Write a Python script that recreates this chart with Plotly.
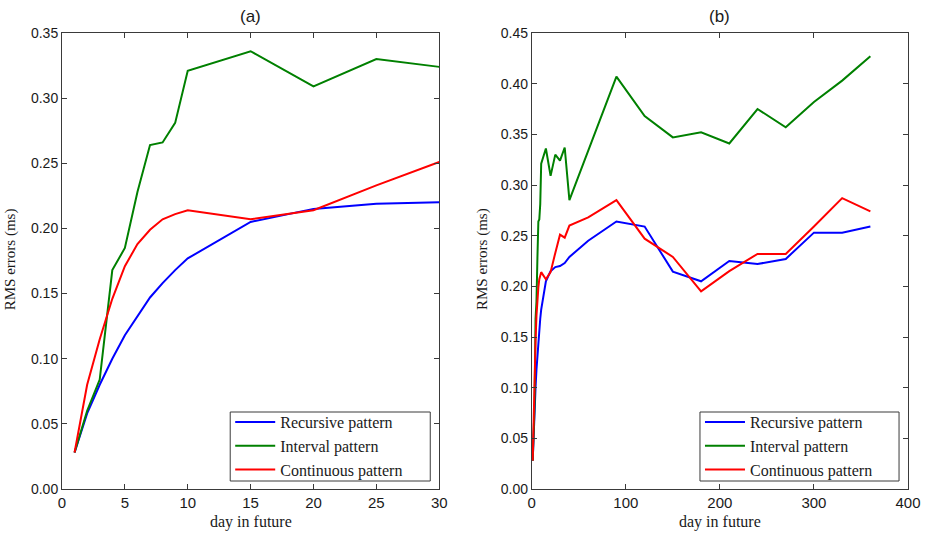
import plotly.graph_objects as go

# ---- Data: panel (a) ----
days_a = [1, 2, 3, 4, 5, 6, 7, 8, 9, 10, 15, 20, 25, 30]
recursive_a = [0.028, 0.058, 0.080, 0.100, 0.118, 0.133, 0.147, 0.158, 0.168, 0.177, 0.205, 0.215, 0.219, 0.220]
interval_a = [0.028, 0.060, 0.084, 0.168, 0.185, 0.228, 0.264, 0.266, 0.281, 0.321, 0.336, 0.309, 0.330, 0.324]
continuous_a = [0.028, 0.080, 0.115, 0.146, 0.171, 0.188, 0.199, 0.207, 0.211, 0.214, 0.207, 0.214, 0.233, 0.251]

# ---- Data: panel (b) ----
days_b = [1, 2, 3, 4, 5, 6, 7, 8, 9, 10, 15, 20, 25, 30, 35, 40, 60, 90, 120, 150, 180, 210, 240, 270, 300, 330, 360]
recursive_b = [0.028, 0.058, 0.080, 0.100, 0.118, 0.133, 0.147, 0.158, 0.168, 0.177, 0.205, 0.215, 0.219, 0.220,
               0.223, 0.229, 0.245, 0.264, 0.259, 0.2145, 0.205, 0.225, 0.222, 0.227, 0.253, 0.253, 0.259]
interval_b = [0.028, 0.060, 0.084, 0.168, 0.185, 0.228, 0.264, 0.266, 0.281, 0.321, 0.336, 0.309, 0.330, 0.324,
              0.337, 0.285, None, 0.407, 0.368, 0.347, 0.352, 0.341, 0.375, 0.357, 0.382, 0.403, 0.427]
continuous_b = [0.028, 0.080, 0.115, 0.146, 0.171, 0.188, 0.199, 0.207, 0.211, 0.214, 0.207, 0.214, 0.233, 0.251,
                0.248, 0.260, 0.268, 0.285, 0.247, 0.229, 0.195, 0.215, 0.232, 0.232, 0.259, 0.287, 0.274]

series_names = ["Recursive pattern", "Interval pattern", "Continuous pattern"]
colors = ["#0000FF", "#008000", "#FF0000"]

panel_titles = ["(a)", "(b)"]
x_title = "day in future"
y_title = "RMS errors (ms)"

W, H = 933, 534
L, R, T, B = 62, 21, 33, 45
pw = W - L - R
ph = H - T - B

def px2dom(px):
    return (px - L) / pw

def py2dom(py):
    return (H - B - py) / ph

sans = "Liberation Sans, Arial, sans-serif"
serif = "Liberation Serif, Times New Roman, serif"
txt = "#1a1a1a"
frame = "#3a3a3a"

fig = go.Figure()

for vals, name, col in zip([recursive_a, interval_a, continuous_a], series_names, colors):
    fig.add_trace(go.Scatter(x=days_a, y=vals, mode="lines", name=name,
                             line=dict(color=col, width=2), xaxis="x", yaxis="y",
                             legend="legend"))
for vals, name, col in zip([recursive_b, interval_b, continuous_b], series_names, colors):
    fig.add_trace(go.Scatter(x=days_b, y=vals, mode="lines", name=name, connectgaps=True,
                             line=dict(color=col, width=2), xaxis="x2", yaxis="y2",
                             legend="legend2"))

def axis_style(fontsize):
    return dict(showline=True, linecolor=frame, linewidth=1, mirror="ticks",
                ticks="inside", ticklen=5, tickcolor=frame, showgrid=False,
                zeroline=False, tickfont=dict(family=sans, size=fontsize, color=txt))

legend_style = dict(xanchor="left", yanchor="top", borderwidth=0,
                    bgcolor="rgba(0,0,0,0)", font=dict(family=serif, size=16, color=txt),
                    tracegroupgap=0, itemwidth=40)

fig.update_layout(
    width=W, height=H,
    paper_bgcolor="white", plot_bgcolor="white",
    margin=dict(l=L, r=R, t=T, b=B),
    xaxis=dict(domain=[0, px2dom(441)], range=[0, 30], tickvals=[0, 5, 10, 15, 20, 25, 30],
               anchor="y", **axis_style(15)),
    yaxis=dict(domain=[0, 1], range=[0, 0.35], tickvals=[0, 0.05, 0.1, 0.15, 0.2, 0.25, 0.3, 0.35],
               tickformat=".2f", anchor="x", **axis_style(14)),
    xaxis2=dict(domain=[px2dom(534), 1], range=[0, 400], tickvals=[0, 100, 200, 300, 400],
                anchor="y2", **axis_style(15)),
    yaxis2=dict(domain=[0, 1], range=[0, 0.45],
                tickvals=[0, 0.05, 0.1, 0.15, 0.2, 0.25, 0.3, 0.35, 0.4, 0.45],
                tickformat=".2f", anchor="x2", **axis_style(14)),
    legend=dict(x=px2dom(231), y=py2dom(405), **legend_style),
    legend2=dict(x=px2dom(703), y=py2dom(405), **legend_style),
    showlegend=True,
)

# legend frames
for x0, x1 in [(231, 432), (703, 903)]:
    fig.add_shape(type="rect", xref="paper", yref="paper",
                  x0=px2dom(x0), x1=px2dom(x1), y0=py2dom(481), y1=py2dom(412),
                  line=dict(color=frame, width=1), fillcolor="white", layer="above")

common = dict(xref="paper", yref="paper", xanchor="center", showarrow=False)
annotations = [
    dict(text=panel_titles[0], x=px2dom((62 + 441) / 2), y=1, yanchor="bottom", yshift=5,
         font=dict(family=sans, size=17, color=txt), **common),
    dict(text=panel_titles[1], x=px2dom((534 + 912) / 2), y=1, yanchor="bottom", yshift=5,
         font=dict(family=sans, size=17, color=txt), **common),
    dict(text=x_title, x=px2dom((62 + 441) / 2), y=0, yanchor="top", yshift=-22,
         font=dict(family=serif, size=16, color=txt), **common),
    dict(text=x_title, x=px2dom((534 + 912) / 2), y=0, yanchor="top", yshift=-22,
         font=dict(family=serif, size=16, color=txt), **common),
    dict(text=y_title, x=px2dom(10), y=py2dom(259), yanchor="middle", textangle=-90,
         font=dict(family=serif, size=15, color=txt), **common),
    dict(text=y_title, x=px2dom(484), y=py2dom(259), yanchor="middle", textangle=-90,
         font=dict(family=serif, size=15, color=txt), **common),
]
fig.update_layout(annotations=annotations)

fig.write_html("out.html", config={"displayModeBar": False},
               post_script="document.body.style.margin='0px';")
